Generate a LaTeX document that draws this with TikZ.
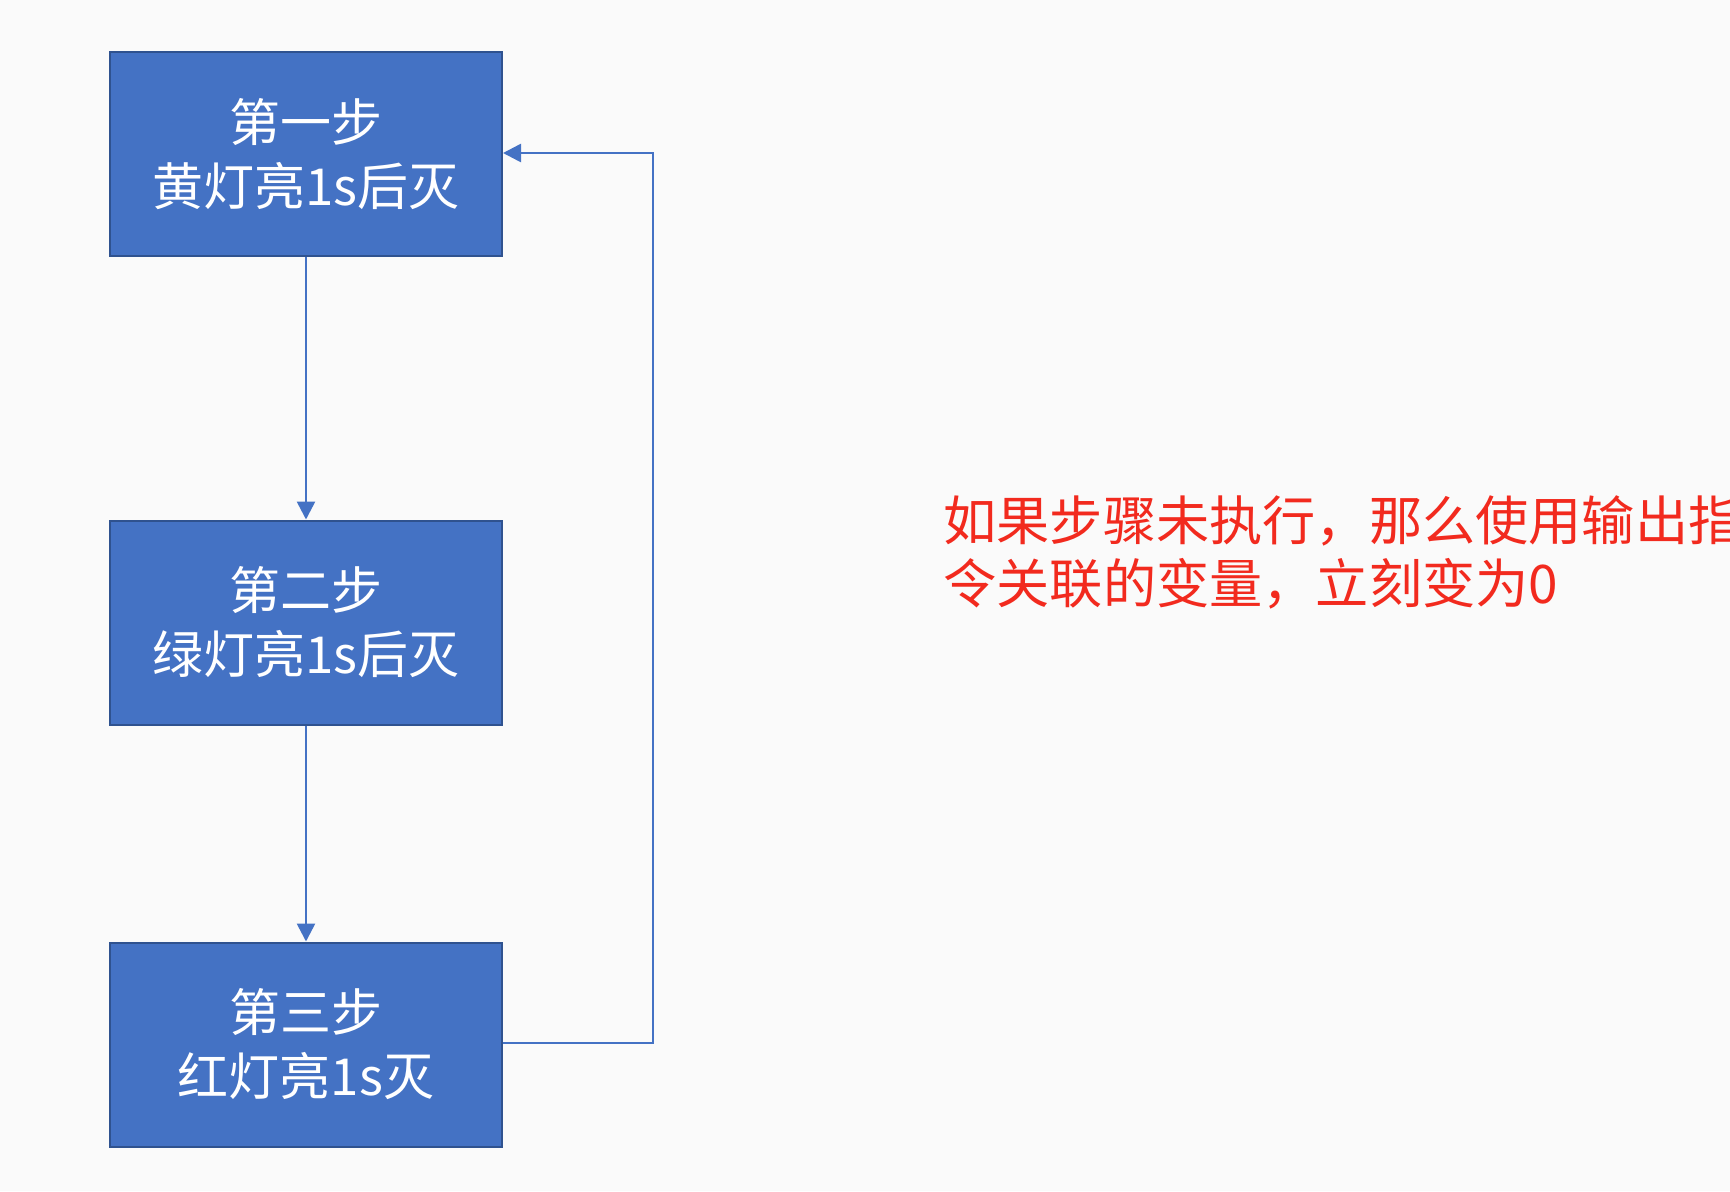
\documentclass[tikz,border=0pt]{standalone}
\usepackage{fontspec}
\newfontfamily\cjk{Noto Sans CJK SC}
\usetikzlibrary{arrows.meta}
\definecolor{bg}{HTML}{FAFAFA}
\definecolor{boxfill}{HTML}{4472C4}
\definecolor{boxline}{HTML}{2F528F}
\definecolor{conn}{HTML}{4472C4}
\definecolor{note}{HTML}{F22A1E}
\begin{document}
\begin{tikzpicture}[x=0.5pt,y=-0.5pt,
  stepbox/.style={draw=boxline,line width=1pt,fill=boxfill,minimum width=196pt,minimum height=102pt,
    inner sep=0pt,text=white,font=\cjk\fontsize{25.5}{32}\selectfont,align=center},
  conn/.style={draw=conn,line width=1.3pt,-{Triangle[length=9pt,width=9pt]}},
  notetext/.style={text=note,font=\cjk\fontsize{26.6}{31.5}\selectfont,align=left,anchor=north west,inner sep=0pt}]
\fill[bg] (0,0) rectangle (1730,1191);
\useasboundingbox (0,0) rectangle (1730,1191);
\clip (0,0) rectangle (1730,1191);
\node[stepbox] (s1) at (306,154) {第一步\\黄灯亮1s后灭};
\node[stepbox] (s2) at (306,622.5) {第二步\\绿灯亮1s后灭};
\node[stepbox] (s3) at (306,1044.5) {第三步\\红灯亮1s灭};
\coordinate (c1) at (653,1043);
\coordinate (c2) at (653,153);
\draw[conn] (s1.south) -- (s2.north);
\draw[conn] (s2.south) -- (s3.north);
\draw[conn] (s3.east |- c1) -- (c1) -- (c2) -- (s1.east |- c2);
\node[notetext] (note) at (943,495) {如果步骤未执行，那么使用输出指\\令关联的变量，立刻变为0};
\end{tikzpicture}
\end{document}
